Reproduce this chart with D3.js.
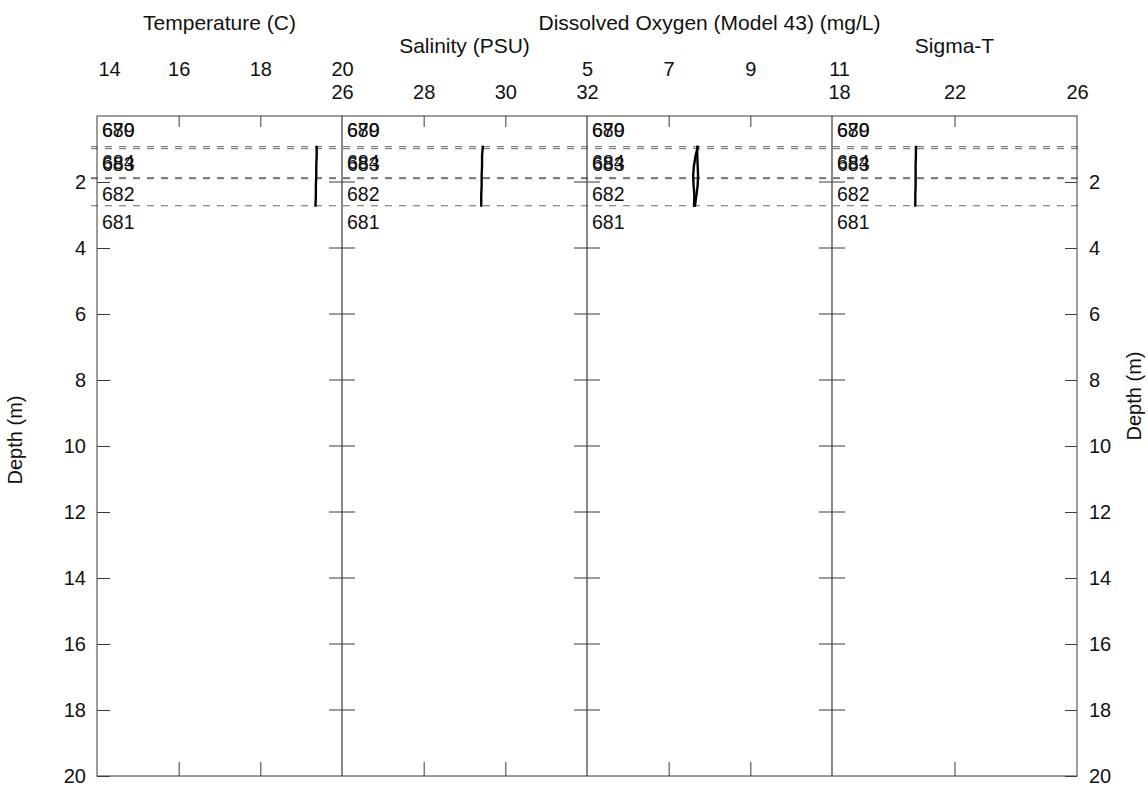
<!DOCTYPE html>
<html>
<head>
<meta charset="utf-8">
<script src="https://cdn.jsdelivr.net/npm/d3@7"></script>
<style>
  html, body { margin: 0; padding: 0; background: #fff; }
  svg { display: block; }
  text { font-family: "Liberation Sans", Arial, Helvetica, sans-serif; fill: #111; }
</style>
</head>
<body>
<svg id="chart" width="1148" height="789"></svg>
<script>
// ---------------- data ----------------
const depthTicks = [2, 4, 6, 8, 10, 12, 14, 16, 18, 20];
const panelTitles = ["Temperature (C)", "Salinity (PSU)", "Dissolved Oxygen (Model 43) (mg/L)", "Sigma-T"];
const panelDomains = [[14, 20], [26, 32], [5, 11], [18, 26]];
const panelTicks = [[14, 16, 18, 20], [26, 28, 30, 32], [5, 7, 9, 11], [18, 22, 26]];

const castIds = ["679", "680", "684", "683", "682", "681"];
const castLabelDepths = [0.64, 0.64, 1.60, 1.66, 2.58, 3.42];
const castBottomDepths = [0.93, 0.99, 1.87, 1.90, 2.72];

const profileDepths = [0.9, 1.2, 1.5, 1.8, 2.1, 2.4, 2.75];
const temperature = [19.38, 19.38, 19.37, 19.37, 19.36, 19.36, 19.35];
const salinity = [29.45, 29.43, 29.43, 29.42, 29.42, 29.41, 29.41];
const oxygenA = [7.72, 7.66, 7.62, 7.60, 7.61, 7.63, 7.62];
const oxygenB = [7.70, 7.70, 7.71, 7.72, 7.71, 7.68, 7.64];
const sigmaT = [20.74, 20.74, 20.73, 20.73, 20.73, 20.72, 20.72];

const panelSeries = [[temperature], [salinity], [oxygenA, oxygenB], [sigmaT]];

// ---------------- layout ----------------
const plotLeft = 97, plotRight = 1077, plotTop = 116, plotBottom = 776;
const nPanels = panelTitles.length;
const panelW = (plotRight - plotLeft) / nPanels;
const frameColor = "#3a3a3a";
const FONT = '"Liberation Sans", Arial, sans-serif';

const svg = d3.select("#chart");

const y = d3.scaleLinear().domain([0, 20]).range([plotTop, plotBottom]);
const xs = panelDomains.map((dom, i) =>
  d3.scaleLinear().domain(dom).range([plotLeft + i * panelW, plotLeft + (i + 1) * panelW]));

// dashed cast bottom lines
svg.append("g").selectAll("line").data(castBottomDepths).join("line")
  .attr("x1", plotLeft - 6).attr("x2", plotRight + 2)
  .attr("y1", d => y(d)).attr("y2", d => y(d))
  .attr("stroke", "#666").attr("stroke-width", 1)
  .attr("stroke-dasharray", "7,7");

// frame
svg.append("rect")
  .attr("x", plotLeft).attr("y", plotTop)
  .attr("width", plotRight - plotLeft).attr("height", plotBottom - plotTop)
  .attr("fill", "none").attr("stroke", frameColor).attr("stroke-width", 1);

// panel dividers
for (let i = 1; i < nPanels; i++) {
  const xd = plotLeft + i * panelW;
  svg.append("line").attr("x1", xd).attr("x2", xd)
    .attr("y1", plotTop).attr("y2", plotBottom)
    .attr("stroke", frameColor).attr("stroke-width", 1.2);
  svg.append("g").selectAll("line").data(depthTicks.filter(d => d < 20)).join("line")
    .attr("x1", xd - 13).attr("x2", xd + 13)
    .attr("y1", d => y(d)).attr("y2", d => y(d))
    .attr("stroke", frameColor).attr("stroke-width", 1);
}

// left depth axis
const leftAxis = svg.append("g")
  .attr("transform", `translate(${plotLeft},0)`)
  .call(d3.axisLeft(y).tickValues(depthTicks).tickSizeInner(-13).tickSizeOuter(0).tickPadding(11));
leftAxis.select(".domain").remove();
leftAxis.selectAll("line").attr("stroke", frameColor);
leftAxis.selectAll("text").attr("font-size", 20).attr("fill", "#111").style("font-family", FONT);

// right depth axis
const rightAxis = svg.append("g")
  .attr("transform", `translate(${plotRight},0)`)
  .call(d3.axisRight(y).tickValues(depthTicks).tickSizeInner(-12).tickSizeOuter(0).tickPadding(12));
rightAxis.select(".domain").remove();
rightAxis.selectAll("line").attr("stroke", frameColor);
rightAxis.selectAll("text").attr("font-size", 20).attr("fill", "#111").style("font-family", FONT);

// axis titles
svg.append("text").attr("transform", `translate(22,${(plotTop + plotBottom) / 2 - 6}) rotate(-90)`)
  .attr("text-anchor", "middle").attr("font-size", 20).text("Depth (m)");
svg.append("text").attr("transform", `translate(1141,${(plotTop + plotBottom) / 2 - 50}) rotate(-90)`)
  .attr("text-anchor", "middle").attr("font-size", 20).text("Depth (m)");

// panel top axes, titles, bottom ticks
panelTitles.forEach((title, i) => {
  const x = xs[i];
  const row = i % 2; // 0 = upper row, 1 = lower row
  const [d0, d1] = panelDomains[i];
  const top = svg.append("g")
    .attr("transform", `translate(0,${plotTop})`)
    .call(d3.axisTop(x).tickValues(panelTicks[i]).tickSizeInner(-11).tickSizeOuter(0)
      .tickPadding(row === 0 ? 40 : 17).tickFormat(d3.format("d")));
  top.select(".domain").remove();
  top.selectAll(".tick line").attr("stroke", frameColor)
    .attr("display", d => (d === d0 || d === d1) ? "none" : null);
  top.selectAll("text").attr("font-size", 20).attr("fill", "#111").style("font-family", FONT)
    .attr("dx", d => (i === 0 && d === d0) ? 12 : ((i === 2 && d === d1) || (i === 3 && d === d0)) ? 7 : 0);
  const bot = svg.append("g")
    .attr("transform", `translate(0,${plotBottom})`)
    .call(d3.axisBottom(x).tickValues(panelTicks[i].filter(d => d !== d0 && d !== d1))
      .tickSizeInner(-14).tickSizeOuter(0).tickFormat(""));
  bot.select(".domain").remove();
  bot.selectAll(".tick line").attr("stroke", frameColor);
  svg.append("text")
    .attr("x", (x.range()[0] + x.range()[1]) / 2)
    .attr("y", row === 0 ? 30 : 53)
    .attr("text-anchor", "middle").attr("font-size", 21)
    .text(title);
  svg.append("g").selectAll("text").data(castIds).join("text")
    .attr("x", x.range()[0] + 5)
    .attr("y", (d, k) => y(castLabelDepths[k]))
    .attr("font-size", 19.5)
    .text(d => d);
  const line = d3.line().x(v => x(v)).y((v, k) => y(profileDepths[k]));
  panelSeries[i].forEach(s => {
    svg.append("path").datum(s).attr("d", line)
      .attr("fill", "none").attr("stroke", "#000").attr("stroke-width", 2.4);
  });
});
</script>
</body>
</html>
